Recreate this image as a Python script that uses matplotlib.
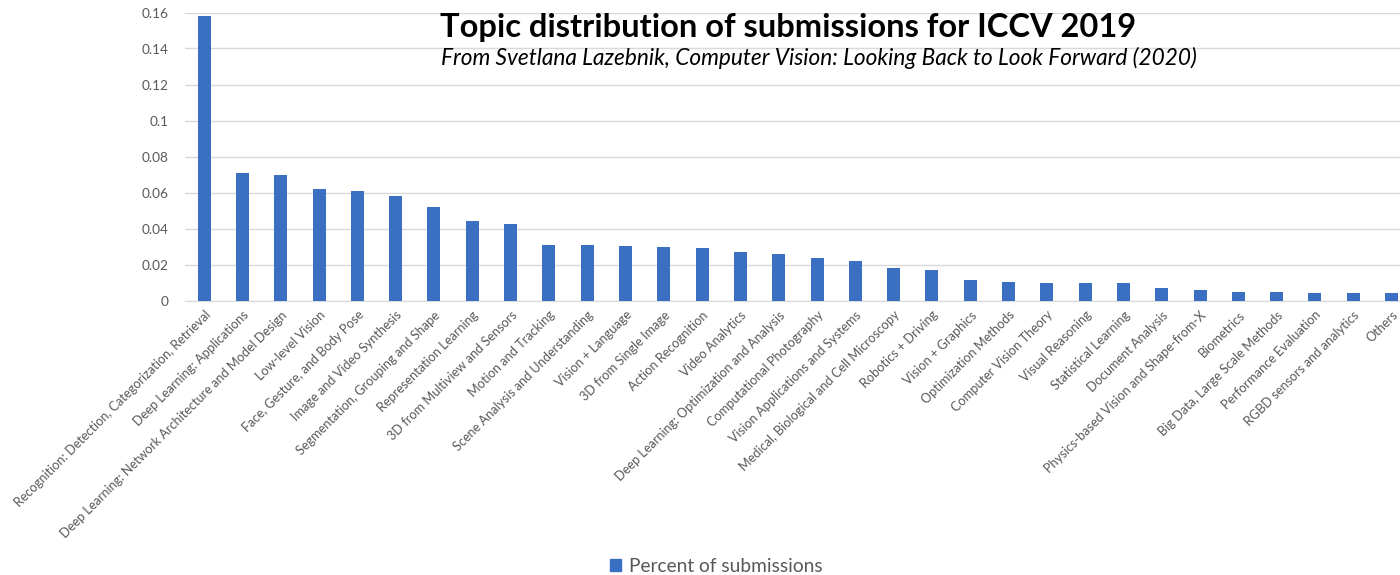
import matplotlib
matplotlib.use("Agg")
import matplotlib.pyplot as plt
from matplotlib.patches import Patch

categories = [
    "Recognition: Detection, Categorization, Retrieval",
    "Deep Learning: Applications",
    "Deep Learning: Network Architecture and Model Design",
    "Low-level Vision",
    "Face, Gesture, and Body Pose",
    "Image and Video Synthesis",
    "Segmentation, Grouping and Shape",
    "Representation Learning",
    "3D from Multiview and Sensors",
    "Motion and Tracking",
    "Scene Analysis and Understanding",
    "Vision + Language",
    "3D from Single Image",
    "Action Recognition",
    "Video Analytics",
    "Deep Learning: Optimization and Analysis",
    "Computational Photography",
    "Vision Applications and Systems",
    "Medical, Biological and Cell Microscopy",
    "Robotics + Driving",
    "Vision + Graphics",
    "Optimization Methods",
    "Computer Vision Theory",
    "Visual Reasoning",
    "Statistical Learning",
    "Document Analysis",
    "Physics-based Vision and Shape-from-X",
    "Biometrics",
    "Big Data, Large Scale Methods",
    "Performance Evaluation",
    "RGBD sensors and analytics",
    "Others",
]
values = [
    0.158, 0.071, 0.070, 0.062, 0.061, 0.058, 0.052, 0.044, 0.0425, 0.031,
    0.031, 0.0305, 0.030, 0.029, 0.0272, 0.026, 0.0237, 0.0217, 0.0182, 0.0172,
    0.0113, 0.0102, 0.0096, 0.0096, 0.0096, 0.0071, 0.0060, 0.0049, 0.0049,
    0.0040, 0.0040, 0.0040,
]
yticks = [0, 0.02, 0.04, 0.06, 0.08, 0.1, 0.12, 0.14, 0.16]
ytick_labels = ["0", "0.02", "0.04", "0.06", "0.08", "0.1", "0.12", "0.14", "0.16"]
series_name = "Percent of submissions"
title = "Topic distribution of submissions for ICCV 2019"
subtitle = "From Svetlana Lazebnik, Computer Vision: Looking Back to Look Forward (2020)"

plt.rcParams['font.family'] = ['Lato', 'DejaVu Sans']
bar_color = "#3a6fc1"
text_gray = "#595959"

fig = plt.figure(figsize=(14, 5.75), dpi=100)
ax = fig.add_axes([185/1400, (575-300.5)/575, (1400-185)/1400, 288/575])

x = list(range(len(values)))
ax.bar(x, values, width=0.34, color=bar_color, zorder=3)
ax.set_xlim(-0.5, 31.22)
ax.set_ylim(0, 0.16)
ax.set_yticks(yticks)
ax.set_yticklabels(ytick_labels, fontsize=9.8, color=text_gray)
ax.set_xticks(x)
ax.set_xticklabels(categories, rotation=45, ha='right', rotation_mode='anchor',
                   fontsize=9.2, color=text_gray)
ax.tick_params(axis='both', length=0)
ax.tick_params(axis='y', pad=12)
ax.tick_params(axis='x', pad=6)
ax.grid(axis='y', color="#d9d9d9", linewidth=1, zorder=0)
for s in ["top", "right", "left"]:
    ax.spines[s].set_visible(False)
ax.spines["bottom"].set_color("#d9d9d9")

fig.text(440/1400, 1-37/575, title, fontsize=23.5, fontweight='bold', ha='left', va='baseline', color='black')
fig.text(441/1400, 1-65/575, subtitle, fontsize=16.3, style='italic', ha='left', va='baseline', color='black')

fig.legend(handles=[Patch(color=bar_color, label=series_name)], loc='center',
           bbox_to_anchor=(716/1400, 1-566/575), frameon=False, fontsize=13.8,
           handlelength=0.6, handleheight=0.6, handletextpad=0.4, labelcolor=text_gray)

fig.savefig("out.png", dpi=100)
